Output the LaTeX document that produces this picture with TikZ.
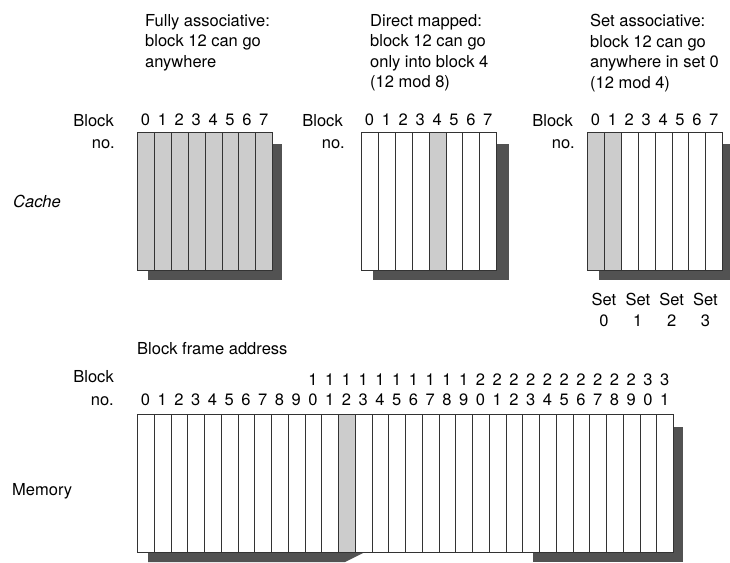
\documentclass[tikz,border=0pt]{standalone}
\usepackage{fontspec}
\setmainfont{TeX Gyre Heros}
\usetikzlibrary{
    positioning
}
\tikzset{
    texto/.style={
        font=\fontsize{16.5}{20.5}\selectfont,
        inner sep=0pt
    },
    titulo/.style={
        texto,
        align=left,
        anchor=north west
    },
    bloque/.style={
        draw=black!80,
        line width=0.8pt,
        fill=white,
        minimum width=16.9pt,
        minimum height=138pt,
        inner sep=0pt,
        anchor=north west
    },
    lleno/.style={fill=black!20},
    sombra/.style={fill=black!68}
}

\begin{document}
\begin{tikzpicture}[
    x=1pt,
    y=-1pt
]
    \useasboundingbox (0,0) rectangle (730,562);

    % Titulos
    \node[titulo] (tfa) at (145,14)
        {Fully associative:\\block 12 can go\\anywhere};
    \node[titulo] (tcd) at (370,14)
        {Direct mapped:\\block 12 can go\\only into block 4\\(12 mod 8)};
    \node[titulo] (tca) at (590,14)
        {Set associative:\\block 12 can go\\anywhere in set 0\\(12 mod 4)};

    % Rotulos
    \node[texto, anchor=base west] (cache) at (13,207) {\itshape Cache};
    \node[texto, anchor=base west] (memoria) at (12,495) {Memory};
    \node[texto, anchor=base west] (marco) at (137,354) {Block frame address};

    \node[texto, anchor=base east] (bfa) at (114,126) {Block};
    \node[texto, anchor=base east] (nfa) at (115,148) {no.};
    \node[texto, anchor=base east] (bcd) at (343,126) {Block};
    \node[texto, anchor=base east] (ncd) at (345,148) {no.};
    \node[texto, anchor=base east] (bca) at (573,126) {Block};
    \node[texto, anchor=base east] (nca) at (575,148) {no.};
    \node[texto, anchor=base east] (bm) at (114,382) {Block};
    \node[texto, anchor=base east] (nm) at (114,405) {no.};

    % Cache totalmente asociativa
    \fill[sombra] (148,144) rectangle (282,280);
    \foreach \i in {0,...,7} {
        \node[bloque, lleno] (fa-\i) at (137+16.9*\i,132) {};
        \node[texto, anchor=base] (dfa-\i) at (145.5+16.9*\i,125) {\i};
    }

    % Cache de correspondencia directa
    \fill[sombra] (373,144) rectangle (509,280);
    \foreach \i [evaluate=\i as \tono using {int(\i==4 ? 20 : 0)}] in {0,...,7} {
        \node[bloque, fill=black!\tono] (cd-\i) at (361+16.9*\i,132) {};
        \node[texto, anchor=base] (dcd-\i) at (369.5+16.9*\i,125) {\i};
    }

    % Cache asociativa por conjuntos
    \fill[sombra] (599,144) rectangle (730,280);
    \foreach \i [evaluate=\i as \tono using {int(\i<2 ? 20 : 0)}] in {0,...,7} {
        \node[bloque, fill=black!\tono] (ca-\i) at (587+16.9*\i,132) {};
        \node[texto, anchor=base] (dca-\i) at (595.5+16.9*\i,125) {\i};
    }
    \foreach \s in {0,...,3}
        \node[texto, align=center, anchor=north] (set-\s)
            at (604+33.8*\s,293) {Set\\\s};

    % Memoria
    \fill[sombra] (673,427) rectangle (683,562);
    \fill[sombra] (148,552) -- (365,552) -- (345,562) -- (148,562) -- cycle;
    \fill[sombra] (533,552) rectangle (683,562);
    \foreach \i [evaluate=\i as \tono using {int(\i==12 ? 20 : 0)}] in {0,...,31} {
        \pgfmathtruncatemacro{\uni}{mod(\i,10)}
        \pgfmathtruncatemacro{\dec}{\i/10}
        \node[bloque, minimum width=16.75pt, fill=black!\tono] (m-\i)
            at (137+16.75*\i,414) {};
        \node[texto, anchor=base] (du-\i) at (145.4+16.75*\i,405) {\uni};
        \ifnum\i>9
            \node[texto, anchor=base] (dd-\i) at (145.4+16.75*\i,385) {\dec};
        \fi
    }

\end{tikzpicture}
\end{document}
